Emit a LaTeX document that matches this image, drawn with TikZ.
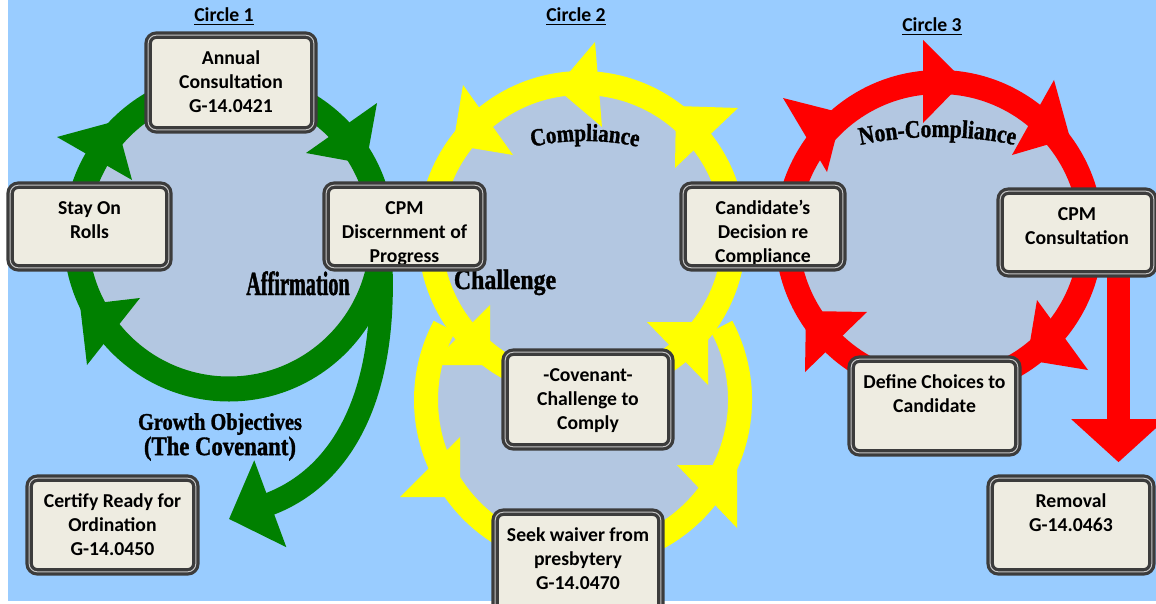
\documentclass[tikz,border=0pt]{standalone}
\usepackage{fontspec}
\setmainfont{Carlito}
\newfontfamily\artfont[FakeStretch=0.85,FakeBold=1.2]{Liberation Serif}
\newfontfamily\artnarrow[FakeStretch=0.6,FakeBold=1.2]{Liberation Serif}
\usetikzlibrary{arrows.meta,decorations.text}
\definecolor{sky}{RGB}{153,204,255}
\definecolor{pool}{RGB}{179,199,225}
\definecolor{leaf}{RGB}{0,128,0}
\definecolor{sun}{RGB}{255,255,0}
\definecolor{alarm}{RGB}{255,0,0}
\definecolor{card}{HTML}{EEECE1}
\definecolor{rim}{RGB}{60,60,60}

\begin{document}
\begin{tikzpicture}[x=0.025cm,y=-0.025cm]
  \tikzset{stage/.style 2 args = {fill=card, inner sep=0pt, font=\bfseries\fontsize{14}{17}\selectfont,
      execute at begin node={\begin{minipage}[c][#2][t]{#1}\centering\vspace*{9pt}\strut},
      execute at end node={\end{minipage}}}}
  \tikzset{rimline/.style = {draw=rim, line width=2.3pt, double=gray!45, double distance=0.7pt, rounded corners=0.2cm}}
  \tikzset{heading/.style = {anchor=base, inner sep=0pt, font=\bfseries\fontsize{14}{17}\selectfont}}
  \tikzset{art/.style = {anchor=base, inner sep=0pt}}

  \useasboundingbox (0,0) rectangle (1156,604);
  \clip (0,0) rectangle (1156,604);
  \fill[white] (0,0) rectangle (1156,604);
  \fill[sky] (8,0) rectangle (1156,601);

  \coordinate (gc) at (229,236);
  \coordinate (yc) at (582,235);
  \coordinate (lc) at (583,400);
  \coordinate (rc) at (939,234);

  \fill[pool] (gc) circle (141);
  \fill[pool] (yc) circle (140);
  \fill[pool] (lc) circle (145);
  \fill[pool] (rc) circle (140);

  \draw[leaf, line width=0.625cm] (gc) circle (153);
  \draw[sun, line width=0.6cm] (yc) circle (152);
  \draw[sun, line width=0.6cm] (lc) ++(-28:157) arc (-28:208:157);
  \draw[alarm, line width=0.6cm] (rc) circle (152);

  \foreach \ax/\ay/\bx/\by/\cx/\cy in {57/137/132/180/116/121, 377/103/306/153/366/164, 140/298/87/365/80/305}
    \fill[leaf] (\ax,\ay) -- (\bx,\by) -- (\cx,\cy) -- cycle;
  \foreach \ax/\ay/\bx/\by/\cx/\cy in {595/42/602/127/556/88, 463/85/513/155/453/145, 738/108/675/168/676/106,
      647/322/708/385/708/322, 490/305/430/365/490/365, 460/437/400/497/460/497, 677/465/737/528/737/465}
    \fill[sun] (\ax,\ay) -- (\bx,\by) -- (\cx,\cy) -- cycle;
  \foreach \ax/\ay/\bx/\by/\cx/\cy in {923/40/923/123/964/81, 1054/80/1012/155/1070/138, 783/98/827/172/842/113,
      867/312/805/372/806/311, 1037/300/1088/370/1027/360}
    \fill[alarm] (\ax,\ay) -- (\bx,\by) -- (\cx,\cy) -- cycle;

  \coordinate (armtop) at (381,266);
  \coordinate (armtip) at (229,519);
  \draw[leaf, line width=0.575cm, -{Triangle[length=1.1cm,width=2.25cm]}] (armtop) .. controls (386,400) and (340,478) .. (armtip);

  \node[art, font=\artnarrow\bfseries\fontsize{24}{24}\selectfont] (affirm) at (298,295) {Affirmation};
  \node[art, font=\artfont\bfseries\fontsize{20}{20}\selectfont] (challenge) at (505,289) {Challenge};
  \node[align=center, inner sep=0pt, font=\artfont\bfseries\fontsize{17}{18}\selectfont] (growth) at (220,437)
    {Growth Objectives\\{\fontsize{19}{18}\selectfont(The Covenant)}};
  \path[decorate, decoration={text along path, text align=center,
      text={|\artfont\bfseries\fontsize{17.5}{17.5}\selectfont|Compliance}}]
    (520,150) .. controls (560,138) and (610,138) .. (650,150);
  \path[decorate, decoration={text along path, text align=center,
      text={|\artfont\bfseries\fontsize{18}{18}\selectfont|Non-Compliance}}]
    (845,149) .. controls (900,133) and (975,133) .. (1030,149);

  \node[stage={4.125cm}{2.35cm}] (annual) at (231,82.5) {Annual\\Consultation\\G-14.0421};
  \node[stage={3.95cm}{2.05cm}] (stay) at (89.5,226.5) {Stay On\\Rolls};
  \node[stage={3.9cm}{2.05cm}] (discern) at (404.5,226.5) {CPM\\Discernment of\\Progress};
  \node[stage={3.975cm}{2.05cm}] (decision) at (763,226.5) {Candidate’s\\Decision re\\Compliance};
  \node[stage={3.825cm}{2.05cm}] (consult) at (1077,232.5) {CPM\\Consultation};
  \node[stage={4.125cm}{2.35cm}] (covenant) at (588,399.5) {-Covenant-\\Challenge to\\Comply};
  \node[stage={4.125cm}{2.5cm}] (waiver) at (578,562.5) {Seek waiver from\\presbytery\\G-14.0470};
  \node[stage={4.15cm}{2.325cm}] (certify) at (112.5,525) {Certify Ready for\\Ordination\\G-14.0450};
  \node[stage={4.15cm}{2.325cm}] (choices) at (934.5,406) {Define Choices to\\Candidate};
  \node[stage={4.025cm}{2.325cm}] (removal) at (1071,525) {Removal\\G-14.0463};

  \coordinate (drop) at (1118.5,0);
  \draw[alarm, line width=0.575cm, -{Triangle[length=1.075cm,width=2.3cm]}, shorten >=0.4cm] (consult.south -| drop) -- (removal.north -| drop);

  \foreach \n in {annual,stay,discern,decision,consult,covenant,waiver,certify,choices,removal}
    \draw[rimline] (\n.south west) rectangle (\n.north east);

  \node[heading] (circle1) at (224,21.7) {\underline{Circle 1}};
  \node[heading] (circle2) at (576,21.7) {\underline{Circle 2}};
  \node[heading] (circle3) at (932,31.7) {\underline{Circle 3}};
\end{tikzpicture}
\end{document}
